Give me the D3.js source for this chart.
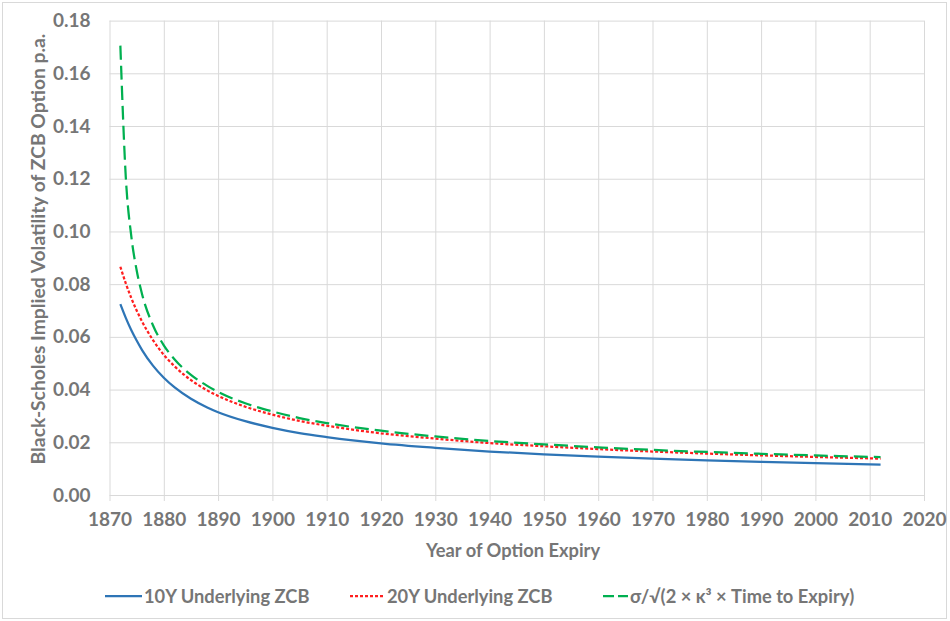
<!DOCTYPE html>
<html>
<head>
<meta charset="utf-8">
<script src="https://cdn.jsdelivr.net/npm/d3@7/dist/d3.min.js"></script>
<style>
  html, body { margin: 0; padding: 0; background: #fff; }
  svg { display: block; font-family: Lato, "Open Sans", sans-serif; font-weight: 700; }
</style>
</head>
<body>
<svg id="chart" width="950" height="621"></svg>
<script>
// Option expiry years at which the implied volatilities were evaluated
const years = [1872, 1873, 1874, 1875, 1876, 1878, 1880, 1882, 1885, 1888, 1890, 1895,
               1900, 1905, 1910, 1920, 1930, 1940, 1950, 1960, 1970, 1980, 1990, 2000, 2012];

// Black-Scholes implied volatility, 10-year underlying zero-coupon bond
const vol10Y = [0.0724, 0.0672, 0.0626, 0.0586, 0.0550, 0.0491, 0.0445, 0.0408, 0.0365, 0.0332, 0.0314, 0.0280,
                0.0255, 0.0235, 0.0220, 0.0196, 0.0179, 0.0165, 0.0154, 0.01455, 0.0138, 0.01314, 0.01258, 0.01208, 0.01156];

// Black-Scholes implied volatility, 20-year underlying zero-coupon bond
const vol20Y = [0.0866, 0.0803, 0.0748, 0.0700, 0.0658, 0.0588, 0.0532, 0.0488, 0.0436, 0.0397, 0.0376, 0.0335,
                0.0305, 0.0281, 0.0263, 0.0234, 0.0214, 0.0197, 0.0185, 0.0174, 0.0165, 0.01571, 0.01504, 0.01444, 0.01381];

// Long-expiry asymptote sigma / sqrt(2 kappa^3 T)
const volAsym = [0.1705, 0.1206, 0.0984, 0.0853, 0.0762, 0.0644, 0.0568, 0.0514, 0.0456, 0.0414, 0.0391, 0.0348,
                 0.0317, 0.0292, 0.0273, 0.0244, 0.0222, 0.0205, 0.0192, 0.0181, 0.0171, 0.01633, 0.01563, 0.01501, 0.01436];

const xTicks = [1870, 1880, 1890, 1900, 1910, 1920, 1930, 1940, 1950, 1960, 1970, 1980, 1990, 2000, 2010, 2020];
const yTicks = [0, 0.02, 0.04, 0.06, 0.08, 0.10, 0.12, 0.14, 0.16, 0.18];

const seriesNames = ["10Y Underlying ZCB", "20Y Underlying ZCB", "σ/√(2 × κ³ × Time to Expiry)"];

const series = [
  { name: seriesNames[0], values: vol10Y,  color: "#2e75b6", dash: null,   legendDash: null,   width: 2.25 },
  { name: seriesNames[1], values: vol20Y,  color: "#ff1f1f", dash: "3,2",  legendDash: "3,2",  width: 2.25 },
  { name: seriesNames[2], values: volAsym, color: "#00b050", dash: "14,6", legendDash: "11,4", width: 2.25 }
];

const svg = d3.select("#chart");
const W = 950, H = 621;
const plot = { left: 109.5, right: 924, top: 20.6, bottom: 495 };
const textColor = "#767676";
const gridColor = "#d9d9d9";
const tickFont = 19;
const titleFont = 18.3;

// chart frame
svg.append("rect")
  .attr("x", 2.5).attr("y", 2.5)
  .attr("width", W - 6).attr("height", H - 5)
  .attr("fill", "#fff").attr("stroke", "#d9d9d9").attr("stroke-width", 1);

const x = d3.scaleLinear().domain([1870, 2020]).range([plot.left, plot.right]);
const y = d3.scaleLinear().domain([0, 0.18]).range([plot.bottom, plot.top]);

// horizontal gridlines and y labels
const yAxis = d3.axisLeft(y).tickValues(yTicks).tickFormat(d3.format(".2f"))
  .tickSize(-(plot.right - plot.left)).tickPadding(19);
const gy = svg.append("g").attr("transform", `translate(${plot.left},0)`).call(yAxis);
gy.select(".domain").remove();
gy.selectAll(".tick line").attr("stroke", gridColor).attr("stroke-width", 1);
gy.selectAll(".tick text").attr("fill", textColor).attr("font-size", tickFont)
  .attr("font-family", "Lato, sans-serif").attr("font-weight", 700);

// vertical gridlines
const gx = svg.append("g").attr("transform", `translate(0,${plot.bottom})`)
  .call(d3.axisBottom(x).tickValues(xTicks).tickFormat(d3.format("d"))
    .tickSize(-(plot.bottom - plot.top)).tickPadding(0));
gx.select(".domain").remove();
gx.selectAll(".tick line").attr("stroke", gridColor).attr("stroke-width", 1);
gx.selectAll(".tick text").remove();

// x axis line with outward tick marks and labels
const gxa = svg.append("g").attr("transform", `translate(0,${plot.bottom})`)
  .call(d3.axisBottom(x).tickValues(xTicks).tickFormat(d3.format("d"))
    .tickSize(6).tickSizeOuter(0).tickPadding(12));
gxa.select(".domain").attr("stroke", gridColor).attr("stroke-width", 1);
gxa.selectAll(".tick line").attr("stroke", gridColor);
gxa.selectAll(".tick text").attr("fill", textColor).attr("font-size", tickFont)
  .attr("font-family", "Lato, sans-serif").attr("font-weight", 700);

// series lines
const line = d3.line()
  .x((d, i) => x(years[i]))
  .y(d => y(d))
  .curve(d3.curveMonotoneX);

series.forEach(s => {
  svg.append("path")
    .datum(s.values)
    .attr("d", line)
    .attr("fill", "none")
    .attr("stroke", s.color)
    .attr("stroke-width", s.width)
    .attr("stroke-dasharray", s.dash);
});

// axis titles
svg.append("text")
  .attr("x", 513).attr("y", 557)
  .attr("text-anchor", "middle")
  .attr("fill", textColor).attr("font-size", titleFont)
  .text("Year of Option Expiry");

svg.append("text")
  .attr("transform", "translate(45,249) rotate(-90)")
  .attr("text-anchor", "middle")
  .attr("fill", textColor).attr("font-size", 19.3)
  .text("Black-Scholes Implied Volatility of ZCB Option p.a.");

// legend
const legendItems = [
  { s: series[0], x1: 105, x2: 142, tx: 144 },
  { s: series[1], x1: 350, x2: 385, tx: 387 },
  { s: series[2], x1: 603, x2: 628, tx: 630 }
];
const legendY = 596;
legendItems.forEach(it => {
  svg.append("line")
    .attr("x1", it.x1).attr("x2", it.x2)
    .attr("y1", legendY).attr("y2", legendY)
    .attr("stroke", it.s.color).attr("stroke-width", it.s.width)
    .attr("stroke-dasharray", it.s.legendDash);
  svg.append("text")
    .attr("x", it.tx).attr("y", legendY + 6.5)
    .attr("fill", textColor).attr("font-size", titleFont)
    .text(it.s.name);
});
</script>
</body>
</html>
